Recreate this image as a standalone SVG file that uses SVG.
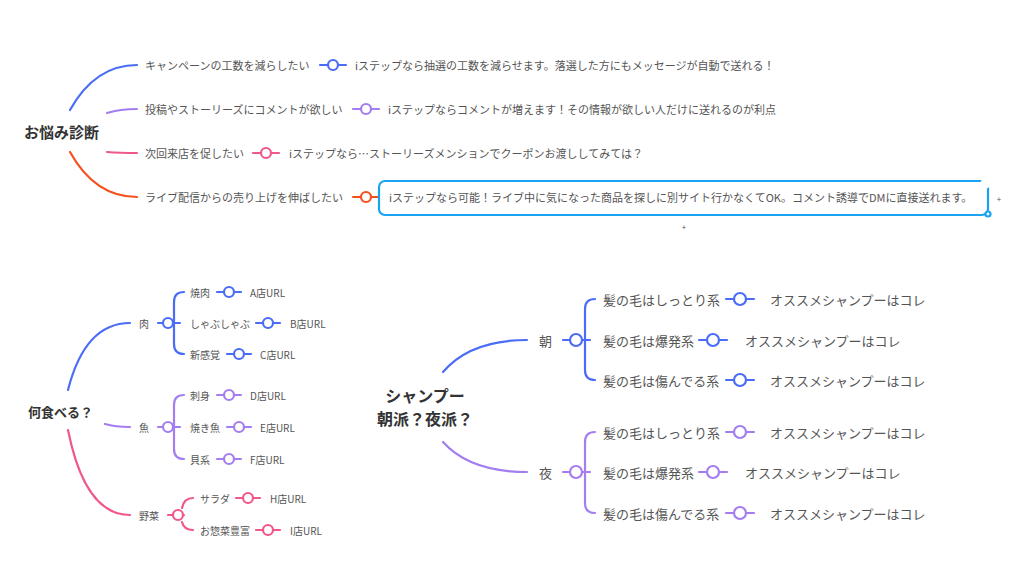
<svg xmlns="http://www.w3.org/2000/svg" width="1024" height="576" viewBox="0 0 1024 576">
<style>
text{font-family:"Noto Sans CJK JP","Noto Sans",sans-serif;fill:#555;dominant-baseline:central}
.r{font-weight:bold;fill:#333}
.s1{font-size:11px}.s2{font-size:10px}.s3{font-size:13px}
path,line{fill:none;stroke-width:2.2;stroke-linecap:round}
circle{fill:#fff;stroke-width:2.2}
.b{stroke:#4a6cf7}.p{stroke:#a47ef0}.k{stroke:#f0578a}.o{stroke:#f4511e}
</style>
<rect width="1024" height="576" fill="#fff"/>
<g id="connectors">
<path class="b" d="M70 110 Q95 65 137 65"/>
<path class="p" d="M107 113 Q120 109 137 109"/>
<path class="k" d="M107 152 Q120 153 137 153"/>
<path class="o" d="M70 152 Q95 197 137 197"/>
<line class="b" x1="320" y1="65" x2="346" y2="65"/><circle class="b" cx="333" cy="65" r="5"/>
<line class="p" x1="353" y1="109" x2="379" y2="109"/><circle class="p" cx="366" cy="109" r="5"/>
<line class="k" x1="253" y1="153" x2="279" y2="153"/><circle class="k" cx="266" cy="153" r="5"/>
<line class="o" x1="353" y1="197" x2="379" y2="197"/><circle class="o" cx="366" cy="197" r="5"/>
<path class="b" d="M68 390 Q85 323 130 323"/>
<path class="p" d="M105 424 Q115 427 130 427"/>
<path class="k" d="M68 430 Q85 515 130 515"/>
<path class="b" d="M158 323H180M184 292Q174 292 174 302V344Q174 354 184 354"/><circle class="b" cx="168" cy="323" r="5"/>
<path class="p" d="M158 427H180M184 395Q174 395 174 405V449Q174 459 184 459"/><circle class="p" cx="168" cy="427" r="5"/>
<path class="k" d="M168 515H184M193 498Q184 498 182 508M182 522Q184 530 193 530"/><circle class="k" cx="178" cy="515" r="5"/>
<line class="b" x1="217" y1="292" x2="241" y2="292"/><circle class="b" cx="229" cy="292" r="5"/>
<line class="b" x1="256" y1="323" x2="280" y2="323"/><circle class="b" cx="268" cy="323" r="5"/>
<line class="b" x1="227" y1="354" x2="251" y2="354"/><circle class="b" cx="239" cy="354" r="5"/>
<line class="p" x1="217" y1="395" x2="241" y2="395"/><circle class="p" cx="229" cy="395" r="5"/>
<line class="p" x1="227" y1="427" x2="251" y2="427"/><circle class="p" cx="239" cy="427" r="5"/>
<line class="p" x1="217" y1="459" x2="241" y2="459"/><circle class="p" cx="229" cy="459" r="5"/>
<line class="k" x1="236" y1="498" x2="260" y2="498"/><circle class="k" cx="248" cy="498" r="5"/>
<line class="k" x1="256" y1="530" x2="280" y2="530"/><circle class="k" cx="268" cy="530" r="5"/>
<path class="b" d="M443 372Q470 340 527 340"/>
<path class="p" d="M443 442Q470 472 527 472"/>
<path class="b" d="M563 340H590M595 299Q585 299 585 309V370Q585 380 595 380"/><circle class="b" cx="576" cy="340" r="6"/>
<path class="p" d="M563 472H590M595 432Q585 432 585 442V503Q585 513 595 513"/><circle class="p" cx="576" cy="472" r="6"/>
<line class="b" x1="726" y1="299" x2="754" y2="299"/><circle class="b" cx="740" cy="299" r="6"/>
<line class="b" x1="699" y1="340" x2="727" y2="340"/><circle class="b" cx="713" cy="340" r="6"/>
<line class="b" x1="726" y1="380" x2="754" y2="380"/><circle class="b" cx="740" cy="380" r="6"/>
<line class="p" x1="726" y1="432" x2="754" y2="432"/><circle class="p" cx="740" cy="432" r="6"/>
<line class="p" x1="699" y1="472" x2="727" y2="472"/><circle class="p" cx="713" cy="472" r="6"/>
<line class="p" x1="726" y1="513" x2="754" y2="513"/><circle class="p" cx="740" cy="513" r="6"/>
</g>
<g id="n-nayami"><text class="r" x="24" y="131" font-size="15">お悩み診断</text></g>
<g id="n-q1"><text class="s1" x="145" y="65">キャンペーンの工数を減らしたい</text></g>
<g id="n-a1"><text class="s1" x="355" y="65">iステップなら抽選の工数を減らせます。落選した方にもメッセージが自動で送れる！</text></g>
<g id="n-q2"><text class="s1" x="145" y="109">投稿やストーリーズにコメントが欲しい</text></g>
<g id="n-a2"><text class="s1" x="388" y="109">iステップならコメントが増えます！その情報が欲しい人だけに送れるのが利点</text></g>
<g id="n-q3"><text class="s1" x="145" y="153">次回来店を促したい</text></g>
<g id="n-a3"><text class="s1" x="289" y="153">iステップなら…ストーリーズメンションでクーポンお渡ししてみては？</text></g>
<g id="n-q4"><text class="s1" x="145" y="197">ライブ配信からの売り上げを伸ばしたい</text></g>
<g id="n-a4">
<rect x="379" y="181" width="609" height="34" rx="6" fill="#fff" stroke="#1aa3f0" stroke-width="2.2"/>
<text class="s1" x="389" y="197">iステップなら可能！ライブ中に気になった商品を探しに別サイト行かなくてOK。コメント誘導でDMに直接送れます。</text>
<circle cx="985" cy="184" r="5" fill="#1aa3f0" stroke="none"/>
<circle cx="988" cy="214" r="2.5" stroke="#1aa3f0" stroke-width="1.2"/>
<circle cx="999" cy="198" r="4" fill="#eee" stroke="none"/><text x="999" y="198" font-size="8" text-anchor="middle" fill="#999">+</text>
<circle cx="684" cy="226" r="4" fill="#eee" stroke="none"/><text x="684" y="226" font-size="8" text-anchor="middle" fill="#999">+</text>
</g>
<g id="n-nani"><text class="r" x="28" y="411" font-size="13">何食べる？</text></g>
<g id="n-niku"><text class="s2" x="139" y="323">肉</text></g>
<g id="n-sakana"><text class="s2" x="139" y="427">魚</text></g>
<g id="n-yasai"><text class="s2" x="139" y="515">野菜</text></g>
<g id="n-f1"><text class="s2" x="190" y="292">焼肉</text><text class="s2" x="250" y="292">A店URL</text></g>
<g id="n-f2"><text class="s2" x="190" y="323">しゃぶしゃぶ</text><text class="s2" x="290" y="323">B店URL</text></g>
<g id="n-f3"><text class="s2" x="190" y="354">新感覚</text><text class="s2" x="260" y="354">C店URL</text></g>
<g id="n-f4"><text class="s2" x="190" y="395">刺身</text><text class="s2" x="250" y="395">D店URL</text></g>
<g id="n-f5"><text class="s2" x="190" y="427">焼き魚</text><text class="s2" x="260" y="427">E店URL</text></g>
<g id="n-f6"><text class="s2" x="190" y="459">貝系</text><text class="s2" x="250" y="459">F店URL</text></g>
<g id="n-f7"><text class="s2" x="200" y="498">サラダ</text><text class="s2" x="270" y="498">H店URL</text></g>
<g id="n-f8"><text class="s2" x="200" y="530">お惣菜豊富</text><text class="s2" x="290" y="530">I店URL</text></g>
<g id="n-shampoo"><text class="r" x="425" y="395" font-size="16" text-anchor="middle">シャンプー</text><text class="r" x="425" y="418" font-size="16" text-anchor="middle">朝派？夜派？</text></g>
<g id="n-asa"><text class="s3" x="539" y="340">朝</text></g>
<g id="n-yoru"><text class="s3" x="539" y="472">夜</text></g>
<g id="n-h1"><text class="s3" x="603" y="299">髪の毛はしっとり系</text><text class="s3" x="770" y="299">オススメシャンプーはコレ</text></g>
<g id="n-h2"><text class="s3" x="603" y="340">髪の毛は爆発系</text><text class="s3" x="745" y="340">オススメシャンプーはコレ</text></g>
<g id="n-h3"><text class="s3" x="603" y="380">髪の毛は傷んでる系</text><text class="s3" x="770" y="380">オススメシャンプーはコレ</text></g>
<g id="n-h4"><text class="s3" x="603" y="432">髪の毛はしっとり系</text><text class="s3" x="770" y="432">オススメシャンプーはコレ</text></g>
<g id="n-h5"><text class="s3" x="603" y="472">髪の毛は爆発系</text><text class="s3" x="745" y="472">オススメシャンプーはコレ</text></g>
<g id="n-h6"><text class="s3" x="603" y="513">髪の毛は傷んでる系</text><text class="s3" x="770" y="513">オススメシャンプーはコレ</text></g>
</svg>
